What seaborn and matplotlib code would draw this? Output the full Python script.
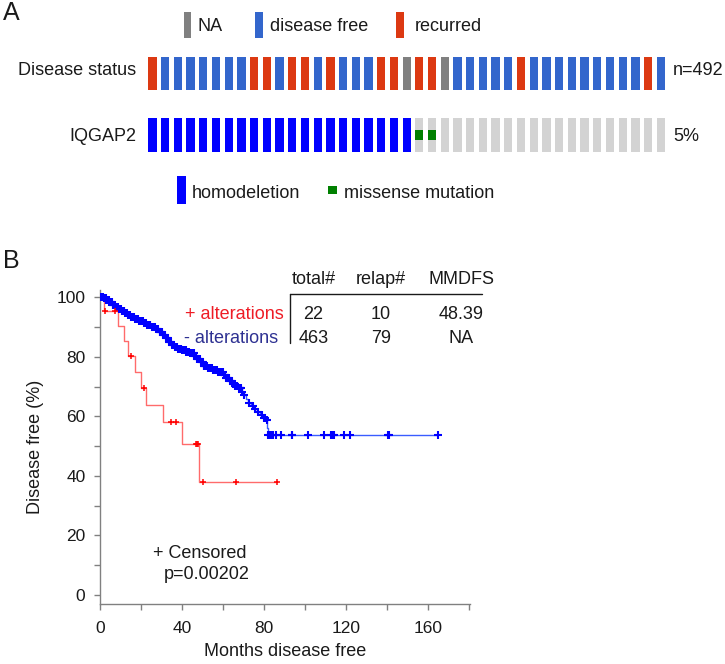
import numpy as np
import pandas as pd
import seaborn as sns
import matplotlib.pyplot as plt
from matplotlib.patches import Rectangle

# ------------------------
# Panel A: oncoprint data
# ------------------------
# R = recurred, B = disease free, G = NA
disease_status = list("RBBBBBBBRRBRRBRBBBRRGRRGBBBBBRBBBBBBBBBRB")
# H = homodeletion, M = missense mutation, N = no alteration
iqgap2_status = list("HHHHHHHHHHHHHHHHHHHHHMMNNNNNNNNNNNNNNNNNN")
n_patients = "n=492"
altered_pct = "5%"

status_colors = {'R': '#dc3912', 'B': '#3366cc', 'G': '#808080'}
alt_colors = {'H': '#0000ff', 'M': '#008000', 'N': '#d3d3d3'}

# ------------------------
# Panel B: survival data
# ------------------------
# + alterations (22 patients, 10 relapses): months, 1 = relapse, 0 = censored
red_times = [2.1, 2.6, 7.4, 8.9, 11.7, 13.8, 15.1, 17.1, 19.8, 21.4, 22.3,
             30.6, 34.6, 37.0, 39.8, 46.8, 47.2, 47.6, 48.39, 50.3, 66.1, 86.1]
red_events = [1, 0, 0, 1, 1, 1, 0, 1, 1, 0, 1,
              1, 0, 0, 1, 0, 0, 0, 1, 0, 0, 0]

# - alterations (463 patients): curve
blue_t = [0, 1.5, 3.0, 4.5, 6.0, 7.5, 9.0, 10.5, 12.0, 13.5, 15.0, 17.0, 19.0,
          21.0, 23.0, 25.0, 27.0, 29.0, 30.5, 32.0, 33.5, 35.0, 36.5, 38.0,
          40.0, 42.0, 44.0, 46.0, 47.5, 49.0, 50.5, 52.5, 55.0, 57.5, 60.0,
          61.5, 63.0, 64.5, 66.0, 67.5, 69.0, 70.0, 71.0, 72.0, 73.5, 75.0,
          76.5, 78.0, 79.5, 81.0, 81.6, 82.0, 164.9]
blue_s = [100, 99.6, 99.0, 98.3, 97.5, 96.8, 96.0, 95.3, 94.6, 93.9, 93.2, 92.5,
          91.9, 91.2, 90.6, 90.0, 89.2, 88.4, 87.4, 86.2, 85.1, 84.0, 83.1, 82.6,
          82.1, 81.6, 81.1, 80.2, 79.2, 78.2, 77.0, 76.2, 75.5, 74.8, 73.9, 72.9,
          71.8, 70.9, 70.2, 69.5, 68.3, 67.0, 65.8, 64.6, 63.6, 62.5, 61.6, 60.6,
          59.6, 58.8, 56.0, 53.8, 53.8]
blue_censored = [0.3, 0.6, 0.9, 1.2, 1.4, 1.8, 2.2, 2.4, 2.7, 3.1, 3.5, 3.8, 4.0,
                 4.3, 4.6, 5.1, 5.5, 5.8, 6.1, 6.5, 6.8, 7.2, 7.6, 8.1, 8.5, 8.9,
                 9.4, 9.8, 10.2, 10.6, 10.9, 11.5, 11.9, 12.3, 12.8, 13.2, 13.7,
                 14.1, 14.4, 15.0, 15.4, 15.9, 16.3, 16.6, 17.2, 17.7, 18.1, 18.7,
                 19.1, 19.5, 20.3, 20.8, 21.2, 21.7, 22.1, 22.5, 23.1, 23.8, 24.2,
                 24.6, 25.4, 25.7, 26.0, 26.5, 26.9, 27.5, 27.9, 28.3, 29.0, 29.4,
                 29.8, 30.2, 30.6, 31.2, 31.7, 32.1, 32.8, 33.2, 33.6, 34.3, 34.7,
                 35.0, 35.5, 35.9, 36.5, 37.0, 37.4, 38.2, 38.6, 38.9, 39.3, 39.7,
                 40.1, 40.6, 41.3, 41.7, 42.1, 42.5, 42.9, 43.6, 44.1, 44.5, 45.1,
                 45.6, 46.0, 46.4, 46.8, 47.5, 47.9, 48.4, 48.8, 49.2, 49.6, 50.1,
                 50.5, 50.9, 51.4, 51.8, 52.2, 52.6, 53.1, 53.5, 54.3, 54.8, 55.2,
                 55.6, 56.0, 56.6, 57.1, 57.5, 58.0, 58.6, 59.2, 59.7, 60.3, 60.7,
                 61.1, 61.6, 62.0, 62.4, 62.8, 63.5, 63.9, 64.3, 64.7, 65.2, 65.6,
                 66.0, 66.5, 66.9, 67.6, 68.0, 68.4, 68.9, 69.3, 70.1, 72.4, 74.8,
                 75.6, 76.9, 78.9, 79.7, 80.4, 81.3,
                 82.1, 82.8, 83.7, 84.2, 85.8, 88.1, 93.4, 93.7, 101.5, 109.2,
                 112.6, 113.7, 114.2, 119.1, 121.8, 140.2, 140.8, 164.9]

table_header = ['total#', 'relap#', 'MMDFS']
table_plus = ['22', '10', '48.39']
table_minus = ['463', '79', 'NA']

W, H = 725, 664


def fx(x):
    return x / W


def fy(y):
    return 1 - y / H


def km(times, events):
    t = np.array(times, float)
    e = np.array(events, int)
    order = np.argsort(t, kind='stable')
    t, e = t[order], e[order]
    at_risk = len(t)
    s = 100.0
    st, ss = [0.0], [100.0]
    cens_t, cens_s = [], []
    for ti, ei in zip(t, e):
        if ei == 1:
            s = s * (at_risk - 1) / at_risk
            st.append(ti)
            ss.append(s)
        else:
            cens_t.append(ti)
            cens_s.append(s)
        at_risk -= 1
    st.append(t.max())
    ss.append(s)
    return st, ss, cens_t, cens_s


sns.set_theme(style='ticks')
plt.rcParams['font.family'] = ['Liberation Sans', 'DejaVu Sans']
plt.rcParams['text.color'] = '#1a1a1a'

fig = plt.figure(figsize=(W / 100, H / 100), dpi=100)
fs = 13

# ------------------------
# Panel A
# ------------------------
fig.text(fx(3), fy(13), 'A', fontsize=18, va='center', ha='left')

ax_a = fig.add_axes([fx(146.1), fy(152), fx(667.2 - 146.1), 95 / H])
ax_a.set_xlim(-0.5, 40.5)
ax_a.set_ylim(152, 57)
ax_a.axis('off')
idx = np.arange(len(disease_status))
ax_a.bar(idx, 33, bottom=57, width=0.65,
         color=[status_colors[c] for c in disease_status], linewidth=0)
ax_a.bar(idx, 34, bottom=118, width=0.65, color='#d3d3d3', linewidth=0)
homo = [i for i, c in enumerate(iqgap2_status) if c == 'H']
miss = [i for i, c in enumerate(iqgap2_status) if c == 'M']
ax_a.bar(homo, 34, bottom=118, width=0.65, color=alt_colors['H'], linewidth=0)
ax_a.bar(miss, 10, bottom=130, width=0.65, color=alt_colors['M'], linewidth=0)

fig.text(fx(136), fy(75), 'Disease status', ha='right', va='baseline', fontsize=fs)
fig.text(fx(136), fy(141), 'IQGAP2', ha='right', va='baseline', fontsize=fs)
fig.text(fx(673), fy(75), n_patients, ha='left', va='baseline', fontsize=fs)
fig.text(fx(673), fy(141), altered_pct, ha='left', va='baseline', fontsize=fs)


def legend_box(x0, x1, y0, y1, color):
    fig.add_artist(Rectangle((fx(x0), fy(y1)), (x1 - x0) / W, (y1 - y0) / H,
                             transform=fig.transFigure, color=color, lw=0))


legend_box(183.5, 191, 12, 38, status_colors['G'])
legend_box(255, 263, 12, 38, status_colors['B'])
legend_box(395.5, 403.5, 12, 38, status_colors['R'])
fig.text(fx(197), fy(31), 'NA', va='baseline', fontsize=fs)
fig.text(fx(270), fy(31), 'disease free', va='baseline', fontsize=fs)
fig.text(fx(414.5), fy(31), 'recurred', va='baseline', fontsize=fs)

legend_box(177.3, 185.7, 176, 204, alt_colors['H'])
legend_box(328, 337, 186, 194, alt_colors['M'])
fig.text(fx(191.7), fy(198), 'homodeletion', va='baseline', fontsize=fs)
fig.text(fx(344), fy(198), 'missense mutation', va='baseline', fontsize=fs)

# ------------------------
# Panel B
# ------------------------
fig.text(fx(3), fy(261), 'B', fontsize=18, va='center', ha='left')

ax = fig.add_axes([fx(100), fy(604), 370.4 / W, 314 / H])
red_st, red_ss, red_ct, red_cs = km(red_times, red_events)
sns.lineplot(x=blue_t, y=blue_s, drawstyle='steps-post', color='#3a5cff',
             lw=1, estimator=None, sort=False, ax=ax)
sns.lineplot(x=red_st, y=red_ss, drawstyle='steps-post', color='#ff6b6b',
             lw=1, estimator=None, sort=False, ax=ax)

bt = np.array(blue_t)
bs = np.array(blue_s)
pos = np.searchsorted(bt, np.array(blue_censored), side='right') - 1
blue_cs = bs[pos]
sns.scatterplot(x=blue_censored, y=blue_cs, marker='+', s=34, color='#0000ff',
                linewidth=1.5, ax=ax, zorder=3)
sns.scatterplot(x=red_ct, y=red_cs, marker='+', s=22, color='#ff0000',
                linewidth=1.1, ax=ax, zorder=4)

ax.set_xlim(0, 180.5)
ax.set_ylim(-3, 102.4)
ax.set_xticks(range(0, 181, 20))
ax.set_xticklabels([str(v) if v % 40 == 0 else '' for v in range(0, 181, 20)])
ax.set_yticks(range(0, 101, 10))
ax.set_yticklabels([str(v) if v % 20 == 0 else '' for v in range(0, 101, 10)])
ax.tick_params(axis='both', direction='out', length=4, width=1, color='#808080',
               labelsize=12.5, labelcolor='#1a1a1a')
ax.tick_params(axis='x', pad=8)
ax.tick_params(axis='y', pad=6.5)
for side in ['top', 'right']:
    ax.spines[side].set_visible(False)
for side in ['left', 'bottom']:
    ax.spines[side].set_color('#808080')
    ax.spines[side].set_linewidth(1)
ax.set_xlabel('')
ax.set_ylabel('')

fig.text(fx(285), fy(656), 'Months disease free', ha='center', va='baseline',
         fontsize=fs)
fig.text(fx(36), fy(447), 'Disease free (%)', ha='center', va='center',
         rotation=90, fontsize=fs)

# table of counts
col_x = [313.5, 381, 461]
for x, h, p, m in zip(col_x, table_header, table_plus, table_minus):
    fig.text(fx(x), fy(284), h, ha='center', va='baseline', fontsize=fs)
    fig.text(fx(x), fy(319.3), p, ha='center', va='baseline', fontsize=fs)
    fig.text(fx(x), fy(342.7), m, ha='center', va='baseline', fontsize=fs)
fig.add_artist(plt.Line2D([fx(290), fx(482)], [fy(294.3), fy(294.3)],
                          transform=fig.transFigure, color='#1a1a1a', lw=1))
fig.add_artist(plt.Line2D([fx(290), fx(290)], [fy(294.3), fy(343.3)],
                          transform=fig.transFigure, color='#1a1a1a', lw=1))
fig.text(fx(185), fy(319.3), '+ alterations', color='#ee1c25', va='baseline',
         fontsize=fs)
fig.text(fx(184), fy(342.7), '- alterations', color='#2e3192', va='baseline',
         fontsize=fs)

fig.text(fx(153.3), fy(558.3), '+ Censored', va='baseline', fontsize=fs)
fig.text(fx(164), fy(579.3), 'p=0.00202', va='baseline', fontsize=fs)

fig.savefig('out.png', dpi=100)
